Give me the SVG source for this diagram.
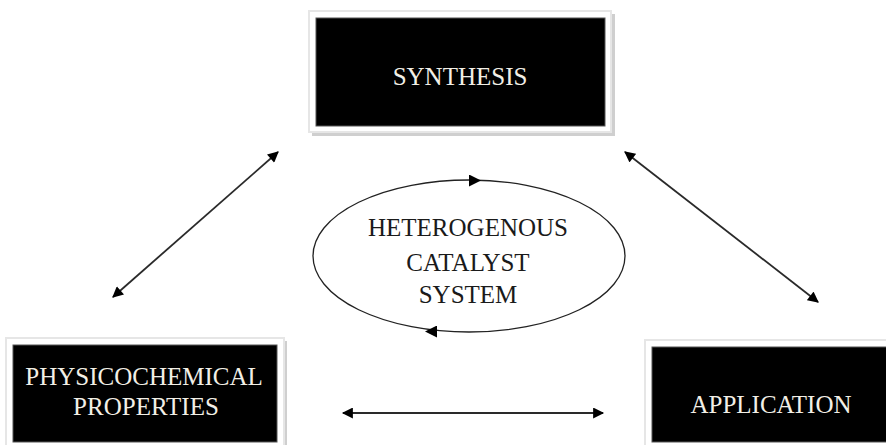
<svg xmlns="http://www.w3.org/2000/svg" width="886" height="445" viewBox="0 0 886 445">
<style>
.frame{fill:#fff;stroke:#e6e6e6;stroke-width:2}
.shadow{fill:#cfcfcf}
.box{fill:#000;stroke:#555;stroke-width:1}
.bt{font-family:"Liberation Serif","Times New Roman",serif;font-size:25px;fill:#f2efe6;text-anchor:middle}
.et{font-family:"Liberation Serif","Times New Roman",serif;font-size:25px;fill:#1a1a1a;text-anchor:middle}
.conn{stroke:#2a2a2a;stroke-width:1.8;fill:none}
</style>
<defs>
<marker id="ah" viewBox="0 0 10 10" refX="9" refY="5" markerWidth="12" markerHeight="11" markerUnits="userSpaceOnUse" orient="auto-start-reverse">
<path d="M0,0 L10,5 L0,10 z" fill="#000"/>
</marker>
<marker id="ah2" viewBox="0 0 10 10" refX="5" refY="5" markerWidth="12" markerHeight="12" markerUnits="userSpaceOnUse" orient="auto">
<path d="M0,0 L10,5 L0,10 z" fill="#000"/>
</marker>
</defs>
<g id="synthesis">
<rect class="shadow" x="312" y="14" width="303" height="122"/>
<rect class="frame" x="309" y="11" width="302" height="121"/>
<rect class="box" x="316" y="18" width="289" height="108"/>
<text class="bt" x="460" y="85">SYNTHESIS</text>
</g>
<g id="physicochemical">
<rect class="shadow" x="9" y="341" width="278" height="110"/>
<rect class="frame" x="6" y="338" width="278" height="110"/>
<rect class="box" x="13" y="345" width="264" height="97"/>
<text class="bt" x="144" y="385">PHYSICOCHEMICAL</text>
<text class="bt" x="146" y="415">PROPERTIES</text>
</g>
<g id="application">
<rect class="shadow" x="648" y="343" width="250" height="110"/>
<rect class="frame" x="645" y="340" width="250" height="110"/>
<rect class="box" x="652" y="347" width="240" height="95"/>
<text class="bt" x="771" y="413">APPLICATION</text>
</g>
<g id="catalyst">
<ellipse cx="469" cy="256" rx="156" ry="76" fill="none" stroke="#222" stroke-width="1.3"/>
<path d="M460,180.6 L475,180.5" stroke="none" fill="none" marker-end="url(#ah2)"/>
<path d="M446,331.5 L431,331.5" stroke="none" fill="none" marker-end="url(#ah2)"/>
<text class="et" x="468" y="236">HETEROGENOUS</text>
<text class="et" x="468" y="271">CATALYST</text>
<text class="et" x="468" y="303">SYSTEM</text>
</g>
<g id="connectors">
<line class="conn" x1="113" y1="297" x2="278" y2="152" marker-start="url(#ah)" marker-end="url(#ah)"/>
<line class="conn" x1="625" y1="152" x2="818" y2="302" marker-start="url(#ah)" marker-end="url(#ah)"/>
<line class="conn" x1="343" y1="413" x2="603" y2="413" marker-start="url(#ah)" marker-end="url(#ah)"/>
</g>
</svg>
